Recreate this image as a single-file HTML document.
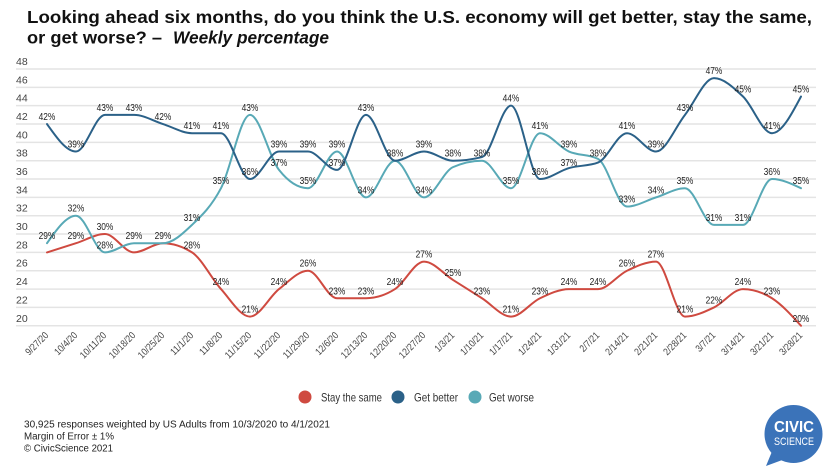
<!DOCTYPE html>
<html><head><meta charset="utf-8"><style>
html,body{margin:0;padding:0;background:#fff;}
svg{display:block;font-family:"Liberation Sans",sans-serif;}
.yl{font-size:10.5px;fill:#444;}
.dl{font-size:10px;fill:#222;text-anchor:middle;}
.xl{font-size:10px;fill:#444;text-anchor:end;}
.ser{fill:none;stroke-width:2;stroke-linecap:round;stroke-linejoin:round;}
</style></head><body>
<svg width="833" height="473" viewBox="0 0 833 473" xmlns="http://www.w3.org/2000/svg">
<rect width="833" height="473" fill="#fff"/>
<text x="27" y="23" font-size="17.5" font-weight="bold" fill="#111" textLength="785" lengthAdjust="spacingAndGlyphs">Looking ahead six months, do you think the U.S. economy will get better, stay the same,</text>
<text x="27" y="43.5" font-size="17.5" font-weight="bold" fill="#111" textLength="135" lengthAdjust="spacingAndGlyphs">or get worse? –</text>
<text x="173" y="43.5" font-size="17.5" font-weight="bold" font-style="italic" fill="#111" textLength="156" lengthAdjust="spacingAndGlyphs">Weekly percentage</text>

<g stroke="#e4e4e4" stroke-width="1.5">
<line x1="16" x2="816" y1="69" y2="69"/>
<line x1="16" x2="816" y1="87.34" y2="87.34"/>
<line x1="16" x2="816" y1="105.68" y2="105.68"/>
<line x1="16" x2="816" y1="124.02" y2="124.02"/>
<line x1="16" x2="816" y1="142.36" y2="142.36"/>
<line x1="16" x2="816" y1="160.7" y2="160.7"/>
<line x1="16" x2="816" y1="179.04" y2="179.04"/>
<line x1="16" x2="816" y1="197.38" y2="197.38"/>
<line x1="16" x2="816" y1="215.72" y2="215.72"/>
<line x1="16" x2="816" y1="234.06" y2="234.06"/>
<line x1="16" x2="816" y1="252.4" y2="252.4"/>
<line x1="16" x2="816" y1="270.74" y2="270.74"/>
<line x1="16" x2="816" y1="289.08" y2="289.08"/>
<line x1="16" x2="816" y1="307.42" y2="307.42"/>
<line x1="16" x2="816" y1="325.76" y2="325.76"/>
</g>
<g class="yl">
<text x="16" y="65">48</text>
<text x="16" y="83.3">46</text>
<text x="16" y="101.7">44</text>
<text x="16" y="120">42</text>
<text x="16" y="138.4">40</text>
<text x="16" y="156.7">38</text>
<text x="16" y="175">36</text>
<text x="16" y="193.4">34</text>
<text x="16" y="211.7">32</text>
<text x="16" y="230.1">30</text>
<text x="16" y="248.4">28</text>
<text x="16" y="266.7">26</text>
<text x="16" y="285.1">24</text>
<text x="16" y="303.4">22</text>
<text x="16" y="321.8">20</text>
</g>

<g transform="matrix(29,0,0,-9.17,47,509.16)">
<path class="ser" vector-effect="non-scaling-stroke" stroke="#cf4a40" d="M0,28 C0.333,28.333 0.667,28.667 1,29 S1.667,30 2,30 S2.667,28 3,28 S3.667,29 4,29 S4.667,28.667 5,28 S5.667,25.167 6,24 S6.667,21 7,21 S7.667,23.167 8,24 S8.667,26 9,26 S9.667,23 10,23 S10.667,23 11,23 S11.667,23.333 12,24 S12.667,27 13,27 S13.667,25.667 14,25 S14.667,23.667 15,23 S15.667,21 16,21 S16.667,22.5 17,23 S17.667,24 18,24 S18.667,24 19,24 S19.667,25.5 20,26 S20.667,27 21,27 S21.667,21 22,21 S22.667,21.5 23,22 S23.667,24 24,24 S24.667,23.667 25,23 S25.667,21.167 26,20"/>
<path class="ser" vector-effect="non-scaling-stroke" stroke="#58a9b6" d="M0,29 C0.333,30.5 0.667,32 1,32 S1.667,28 2,28 S2.667,29 3,29 S3.667,29 4,29 S4.667,30 5,31 S5.667,33 6,35 S6.667,43 7,43 S7.667,38.333 8,37 S8.667,35 9,35 S9.667,39 10,39 S10.667,34 11,34 S11.667,38 12,38 S12.667,34 13,34 S13.667,36.833 14,37.3 S14.667,38 15,38 S15.667,35 16,35 S16.667,41 17,41 S17.667,39.467 18,39 S18.667,38.733 19,38.2 S19.667,33 20,33 S20.667,33.667 21,34 S21.667,35 22,35 S22.667,31 23,31 S23.667,31 24,31 S24.667,36 25,36 S25.667,35.5 26,35"/>
<path class="ser" vector-effect="non-scaling-stroke" stroke="#2b6188" d="M0,42 C0.333,40.5 0.667,39 1,39 S1.667,43 2,43 S2.667,43 3,43 S3.667,42.333 4,42 S4.667,41 5,41 S5.667,41 6,41 S6.667,36 7,36 S7.667,39 8,39 S8.667,39 9,39 S9.667,37 10,37 S10.667,43 11,43 S11.667,38 12,38 S12.667,39 13,39 S13.667,38 14,38 S14.667,38.133 15,38.4 S15.667,44 16,44 S16.667,36 17,36 S17.667,36.9 18,37.2 S18.667,37.4 19,37.8 S19.667,41 20,41 S20.667,39 21,39 S21.667,41.667 22,43 S22.667,47 23,47 S23.667,46 24,45 S24.667,41 25,41 S25.667,43 26,45"/>
</g>

<g class="dl">
<!-- dark -->
<text x="47" y="120" textLength="16.8" lengthAdjust="spacingAndGlyphs">42%</text>
<text x="76" y="147.5" textLength="16.8" lengthAdjust="spacingAndGlyphs">39%</text>
<text x="105" y="110.9" textLength="16.8" lengthAdjust="spacingAndGlyphs">43%</text>
<text x="134" y="110.9" textLength="16.8" lengthAdjust="spacingAndGlyphs">43%</text>
<text x="163" y="120" textLength="16.8" lengthAdjust="spacingAndGlyphs">42%</text>
<text x="192" y="129.2" textLength="16.8" lengthAdjust="spacingAndGlyphs">41%</text>
<text x="221" y="129.2" textLength="16.8" lengthAdjust="spacingAndGlyphs">41%</text>
<text x="250" y="175" textLength="16.8" lengthAdjust="spacingAndGlyphs">36%</text>
<text x="279" y="147.5" textLength="16.8" lengthAdjust="spacingAndGlyphs">39%</text>
<text x="308" y="147.5" textLength="16.8" lengthAdjust="spacingAndGlyphs">39%</text>
<text x="337" y="165.9" textLength="16.8" lengthAdjust="spacingAndGlyphs">37%</text>
<text x="366" y="110.9" textLength="16.8" lengthAdjust="spacingAndGlyphs">43%</text>
<text x="395" y="156.7" textLength="16.8" lengthAdjust="spacingAndGlyphs">38%</text>
<text x="424" y="147.5" textLength="16.8" lengthAdjust="spacingAndGlyphs">39%</text>
<text x="453" y="156.7" textLength="16.8" lengthAdjust="spacingAndGlyphs">38%</text>
<text x="511" y="101.7" textLength="16.8" lengthAdjust="spacingAndGlyphs">44%</text>
<text x="540" y="175" textLength="16.8" lengthAdjust="spacingAndGlyphs">36%</text>
<text x="569" y="165.9" textLength="16.8" lengthAdjust="spacingAndGlyphs">37%</text>
<text x="598" y="156.7" textLength="16.8" lengthAdjust="spacingAndGlyphs">38%</text>
<text x="627" y="129.2" textLength="16.8" lengthAdjust="spacingAndGlyphs">41%</text>
<text x="656" y="147.5" textLength="16.8" lengthAdjust="spacingAndGlyphs">39%</text>
<text x="685" y="110.9" textLength="16.8" lengthAdjust="spacingAndGlyphs">43%</text>
<text x="714" y="74.2" textLength="16.8" lengthAdjust="spacingAndGlyphs">47%</text>
<text x="743" y="92.5" textLength="16.8" lengthAdjust="spacingAndGlyphs">45%</text>
<text x="772" y="129.2" textLength="16.8" lengthAdjust="spacingAndGlyphs">41%</text>
<text x="801" y="92.5" textLength="16.8" lengthAdjust="spacingAndGlyphs">45%</text>
<!-- teal -->
<text x="47" y="239.2" textLength="16.8" lengthAdjust="spacingAndGlyphs">29%</text>
<text x="76" y="211.7" textLength="16.8" lengthAdjust="spacingAndGlyphs">32%</text>
<text x="105" y="248.4" textLength="16.8" lengthAdjust="spacingAndGlyphs">28%</text>
<text x="134" y="239.2" textLength="16.8" lengthAdjust="spacingAndGlyphs">29%</text>
<text x="163" y="239.2" textLength="16.8" lengthAdjust="spacingAndGlyphs">29%</text>
<text x="192" y="220.9" textLength="16.8" lengthAdjust="spacingAndGlyphs">31%</text>
<text x="221" y="184.2" textLength="16.8" lengthAdjust="spacingAndGlyphs">35%</text>
<text x="250" y="110.9" textLength="16.8" lengthAdjust="spacingAndGlyphs">43%</text>
<text x="279" y="165.9" textLength="16.8" lengthAdjust="spacingAndGlyphs">37%</text>
<text x="308" y="184.2" textLength="16.8" lengthAdjust="spacingAndGlyphs">35%</text>
<text x="337" y="147.5" textLength="16.8" lengthAdjust="spacingAndGlyphs">39%</text>
<text x="366" y="193.4" textLength="16.8" lengthAdjust="spacingAndGlyphs">34%</text>
<text x="424" y="193.4" textLength="16.8" lengthAdjust="spacingAndGlyphs">34%</text>
<text x="482" y="156.7" textLength="16.8" lengthAdjust="spacingAndGlyphs">38%</text>
<text x="511" y="184.2" textLength="16.8" lengthAdjust="spacingAndGlyphs">35%</text>
<text x="540" y="129.2" textLength="16.8" lengthAdjust="spacingAndGlyphs">41%</text>
<text x="569" y="147.5" textLength="16.8" lengthAdjust="spacingAndGlyphs">39%</text>
<text x="627" y="202.6" textLength="16.8" lengthAdjust="spacingAndGlyphs">33%</text>
<text x="656" y="193.4" textLength="16.8" lengthAdjust="spacingAndGlyphs">34%</text>
<text x="685" y="184.2" textLength="16.8" lengthAdjust="spacingAndGlyphs">35%</text>
<text x="714" y="220.9" textLength="16.8" lengthAdjust="spacingAndGlyphs">31%</text>
<text x="743" y="220.9" textLength="16.8" lengthAdjust="spacingAndGlyphs">31%</text>
<text x="772" y="175" textLength="16.8" lengthAdjust="spacingAndGlyphs">36%</text>
<text x="801" y="184.2" textLength="16.8" lengthAdjust="spacingAndGlyphs">35%</text>
<!-- red -->
<text x="76" y="239.2" textLength="16.8" lengthAdjust="spacingAndGlyphs">29%</text>
<text x="105" y="230.1" textLength="16.8" lengthAdjust="spacingAndGlyphs">30%</text>
<text x="192" y="248.4" textLength="16.8" lengthAdjust="spacingAndGlyphs">28%</text>
<text x="221" y="285.1" textLength="16.8" lengthAdjust="spacingAndGlyphs">24%</text>
<text x="250" y="312.6" textLength="16.8" lengthAdjust="spacingAndGlyphs">21%</text>
<text x="279" y="285.1" textLength="16.8" lengthAdjust="spacingAndGlyphs">24%</text>
<text x="308" y="266.7" textLength="16.8" lengthAdjust="spacingAndGlyphs">26%</text>
<text x="337" y="294.3" textLength="16.8" lengthAdjust="spacingAndGlyphs">23%</text>
<text x="366" y="294.3" textLength="16.8" lengthAdjust="spacingAndGlyphs">23%</text>
<text x="395" y="285.1" textLength="16.8" lengthAdjust="spacingAndGlyphs">24%</text>
<text x="424" y="257.6" textLength="16.8" lengthAdjust="spacingAndGlyphs">27%</text>
<text x="453" y="275.9" textLength="16.8" lengthAdjust="spacingAndGlyphs">25%</text>
<text x="482" y="294.3" textLength="16.8" lengthAdjust="spacingAndGlyphs">23%</text>
<text x="511" y="312.6" textLength="16.8" lengthAdjust="spacingAndGlyphs">21%</text>
<text x="540" y="294.3" textLength="16.8" lengthAdjust="spacingAndGlyphs">23%</text>
<text x="569" y="285.1" textLength="16.8" lengthAdjust="spacingAndGlyphs">24%</text>
<text x="598" y="285.1" textLength="16.8" lengthAdjust="spacingAndGlyphs">24%</text>
<text x="627" y="266.7" textLength="16.8" lengthAdjust="spacingAndGlyphs">26%</text>
<text x="656" y="257.6" textLength="16.8" lengthAdjust="spacingAndGlyphs">27%</text>
<text x="685" y="312.6" textLength="16.8" lengthAdjust="spacingAndGlyphs">21%</text>
<text x="714" y="303.4" textLength="16.8" lengthAdjust="spacingAndGlyphs">22%</text>
<text x="743" y="285.1" textLength="16.8" lengthAdjust="spacingAndGlyphs">24%</text>
<text x="772" y="294.3" textLength="16.8" lengthAdjust="spacingAndGlyphs">23%</text>
<text x="801" y="321.8" textLength="16.8" lengthAdjust="spacingAndGlyphs">20%</text>
</g>

<g class="xl">
<text transform="translate(49,336) rotate(-45)" textLength="28" lengthAdjust="spacingAndGlyphs">9/27/20</text>
<text transform="translate(78,336) rotate(-45)" textLength="28" lengthAdjust="spacingAndGlyphs">10/4/20</text>
<text transform="translate(107,336) rotate(-45)" textLength="32.7" lengthAdjust="spacingAndGlyphs">10/11/20</text>
<text transform="translate(136,336) rotate(-45)" textLength="32.7" lengthAdjust="spacingAndGlyphs">10/18/20</text>
<text transform="translate(165,336) rotate(-45)" textLength="32.7" lengthAdjust="spacingAndGlyphs">10/25/20</text>
<text transform="translate(194,336) rotate(-45)" textLength="28" lengthAdjust="spacingAndGlyphs">11/1/20</text>
<text transform="translate(223,336) rotate(-45)" textLength="28" lengthAdjust="spacingAndGlyphs">11/8/20</text>
<text transform="translate(252,336) rotate(-45)" textLength="32.7" lengthAdjust="spacingAndGlyphs">11/15/20</text>
<text transform="translate(281,336) rotate(-45)" textLength="32.7" lengthAdjust="spacingAndGlyphs">11/22/20</text>
<text transform="translate(310,336) rotate(-45)" textLength="32.7" lengthAdjust="spacingAndGlyphs">11/29/20</text>
<text transform="translate(339,336) rotate(-45)" textLength="28" lengthAdjust="spacingAndGlyphs">12/6/20</text>
<text transform="translate(368,336) rotate(-45)" textLength="32.7" lengthAdjust="spacingAndGlyphs">12/13/20</text>
<text transform="translate(397,336) rotate(-45)" textLength="32.7" lengthAdjust="spacingAndGlyphs">12/20/20</text>
<text transform="translate(426,336) rotate(-45)" textLength="32.7" lengthAdjust="spacingAndGlyphs">12/27/20</text>
<text transform="translate(455,336) rotate(-45)" textLength="23.4" lengthAdjust="spacingAndGlyphs">1/3/21</text>
<text transform="translate(484,336) rotate(-45)" textLength="28" lengthAdjust="spacingAndGlyphs">1/10/21</text>
<text transform="translate(513,336) rotate(-45)" textLength="28" lengthAdjust="spacingAndGlyphs">1/17/21</text>
<text transform="translate(542,336) rotate(-45)" textLength="28" lengthAdjust="spacingAndGlyphs">1/24/21</text>
<text transform="translate(571,336) rotate(-45)" textLength="28" lengthAdjust="spacingAndGlyphs">1/31/21</text>
<text transform="translate(600,336) rotate(-45)" textLength="23.4" lengthAdjust="spacingAndGlyphs">2/7/21</text>
<text transform="translate(629,336) rotate(-45)" textLength="28" lengthAdjust="spacingAndGlyphs">2/14/21</text>
<text transform="translate(658,336) rotate(-45)" textLength="28" lengthAdjust="spacingAndGlyphs">2/21/21</text>
<text transform="translate(687,336) rotate(-45)" textLength="28" lengthAdjust="spacingAndGlyphs">2/28/21</text>
<text transform="translate(716,336) rotate(-45)" textLength="23.4" lengthAdjust="spacingAndGlyphs">3/7/21</text>
<text transform="translate(745,336) rotate(-45)" textLength="28" lengthAdjust="spacingAndGlyphs">3/14/21</text>
<text transform="translate(774,336) rotate(-45)" textLength="28" lengthAdjust="spacingAndGlyphs">3/21/21</text>
<text transform="translate(803,336) rotate(-45)" textLength="28" lengthAdjust="spacingAndGlyphs">3/28/21</text>
</g>

<!-- legend -->
<circle cx="305" cy="397" r="6.5" fill="#cf4a40"/>
<text x="321" y="401.5" font-size="12" fill="#333" textLength="61" lengthAdjust="spacingAndGlyphs">Stay the same</text>
<circle cx="398" cy="397" r="6.5" fill="#2b6188"/>
<text x="414" y="401.5" font-size="12" fill="#333" textLength="44" lengthAdjust="spacingAndGlyphs">Get better</text>
<circle cx="475" cy="397" r="6.5" fill="#58a9b6"/>
<text x="489" y="401.5" font-size="12" fill="#333" textLength="45" lengthAdjust="spacingAndGlyphs">Get worse</text>

<!-- footer -->
<g font-size="10" fill="#222">
<text x="24" y="427.5" textLength="306" lengthAdjust="spacingAndGlyphs">30,925 responses weighted by US Adults from 10/3/2020 to 4/1/2021</text>
<text x="24" y="439.5" textLength="90" lengthAdjust="spacingAndGlyphs">Margin of Error ± 1%</text>
<text x="24" y="451.5" textLength="89" lengthAdjust="spacingAndGlyphs">© CivicScience 2021</text>
</g>

<!-- logo -->
<path d="M773,449 L766,466 L785,459 Z" fill="#3b73b9"/>
<circle cx="793.5" cy="434" r="29" fill="#3b73b9"/>
<text x="794" y="432" font-size="16" font-weight="bold" fill="#fff" text-anchor="middle" textLength="40" lengthAdjust="spacingAndGlyphs">CIVIC</text>
<text x="794" y="445" font-size="11" fill="#fff" text-anchor="middle" textLength="40" lengthAdjust="spacingAndGlyphs">SCIENCE</text>
</svg>
</body></html>
